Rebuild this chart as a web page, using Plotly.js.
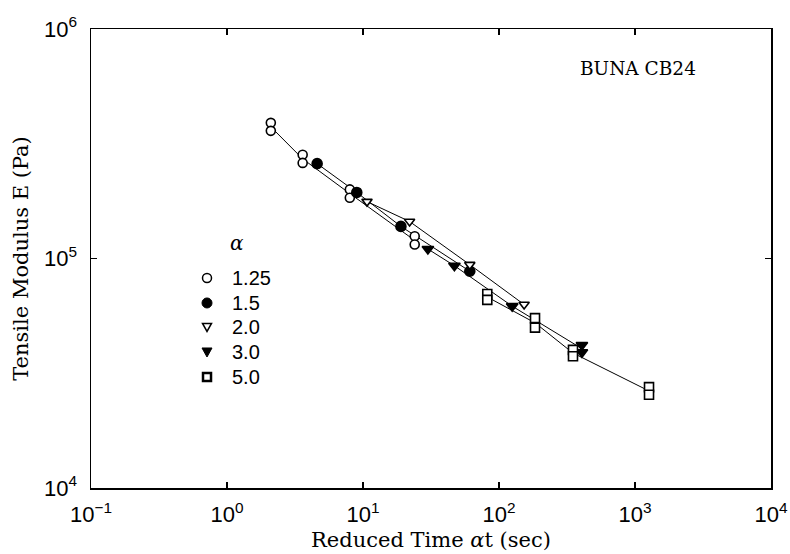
<!DOCTYPE html>
<html>
<head>
<meta charset="utf-8">
<script src="https://cdn.plot.ly/plotly-3.0.1.min.js"></script>
<style>html,body{margin:0;padding:0;background:#fff;}#chart{width:790px;height:554px;}</style>
</head>
<body>
<div id="chart"></div>
<script>
// Reduced time (s) and tensile modulus E (Pa) for each alpha
const alpha125_t = [2.1, 2.1, 3.6, 3.6, 8.0, 8.0, 24, 24];
const alpha125_E = [3.90e5, 3.60e5, 2.83e5, 2.61e5, 2.00e5, 1.84e5, 1.25e5, 1.15e5];
const alpha15_t = [4.6, 9.0, 19, 61];
const alpha15_E = [2.59e5, 1.94e5, 1.38e5, 8.8e4];
const alpha20_t = [10.7, 22, 61, 153];
const alpha20_E = [1.77e5, 1.45e5, 9.4e4, 6.3e4];
const alpha30_t = [30, 47, 125, 407, 407];
const alpha30_E = [1.10e5, 9.3e4, 6.2e4, 4.2e4, 3.9e4];
const alpha50_t = [82, 82, 184, 184, 350, 350, 1268, 1268];
const alpha50_E = [7.0e4, 6.6e4, 5.5e4, 5.0e4, 4.0e4, 3.75e4, 2.75e4, 2.55e4];

const seriesNames = ['1.25', '1.5', '2.0', '3.0', '5.0'];
const xTickVals = [0.1, 1, 10, 100, 1000, 10000];
const xTickText = ['10<sup>−1</sup>', '10<sup>0</sup>', '10<sup>1</sup>', '10<sup>2</sup>', '10<sup>3</sup>', '10<sup>4</sup>'];
const yTickVals = [1e4, 1e5, 1e6];
const yTickText = ['10<sup>4</sup>', '10<sup>5</sup>', '10<sup>6</sup>'];

// geometric mean of replicates at each time, for the connecting line
function lineOf(t, E) {
  const xs = [], ys = [];
  let i = 0;
  while (i < t.length) {
    let j = i, s = 0;
    while (j < t.length && t[j] === t[i]) { s += Math.log10(E[j]); j++; }
    xs.push(t[i]); ys.push(Math.pow(10, s / (j - i)));
    i = j;
  }
  return {xs, ys};
}

const data = [
  {t: alpha125_t, E: alpha125_E, sym: 'circle', fill: '#fff', size: 9},
  {t: alpha15_t, E: alpha15_E, sym: 'circle', fill: '#000', size: 10},
  {t: alpha20_t, E: alpha20_E, sym: 'triangle-down', fill: '#fff', size: 9},
  {t: alpha30_t, E: alpha30_E, sym: 'triangle-down', fill: '#000', size: 10},
  {t: alpha50_t, E: alpha50_E, sym: 'square', fill: '#fff', size: 9}
];

const traces = [];
data.forEach((d) => {
  const l = lineOf(d.t, d.E);
  traces.push({x: l.xs, y: l.ys, type: 'scatter', mode: 'lines', showlegend: false,
    line: {color: '#000', width: 1}, hoverinfo: 'skip'});
});
data.forEach((d, k) => {
  traces.push({x: d.t, y: d.E, type: 'scatter', mode: 'markers', name: seriesNames[k], showlegend: false,
    marker: {symbol: d.sym, size: d.size, color: d.fill, line: {color: '#000', width: 1.6}}});
});

const serifFont = "'DejaVu Serif', 'Liberation Serif', serif";
const sansFont = "'Liberation Sans', Arial, sans-serif";
const axisFont = {family: serifFont, size: 21, color: '#000'};
const tickFont = {family: sansFont, size: 22, color: '#000'};

// manual legend (key placed in the empty area of the plot)
const legX = 0.1706, legTextX = 0.2044;
const legRows = [0.4575, 0.4031, 0.3508, 0.2963, 0.2418];
const legendShapes = [];
const keyStyles = [
  {kind: 'circle', fill: '#fff', r: 4.5, w: 1.5},
  {kind: 'circle', fill: '#000', r: 5, w: 1},
  {kind: 'tri', fill: '#fff', r: 4.5, w: 1.5},
  {kind: 'tri', fill: '#000', r: 5, w: 1},
  {kind: 'square', fill: '#fff', r: 4, w: 2.5}
];
keyStyles.forEach((s, k) => {
  const base = {xref: 'paper', yref: 'paper', xsizemode: 'pixel', ysizemode: 'pixel',
    xanchor: legX, yanchor: legRows[k], fillcolor: s.fill, line: {color: '#000', width: s.w}, layer: 'above'};
  if (s.kind === 'circle') legendShapes.push(Object.assign({type: 'circle', x0: -s.r, x1: s.r, y0: -s.r, y1: s.r}, base));
  else if (s.kind === 'square') legendShapes.push(Object.assign({type: 'rect', x0: -s.r, x1: s.r, y0: -s.r, y1: s.r}, base));
  else legendShapes.push(Object.assign({type: 'path', path: `M ${-s.r},${s.r * 0.8} L ${s.r},${s.r * 0.8} L 0,${-s.r} Z`}, base));
});
const legendAnn = seriesNames.map((n, k) => ({text: n, xref: 'paper', yref: 'paper', x: legTextX, y: legRows[k],
  xanchor: 'left', yanchor: 'middle', showarrow: false, font: {family: sansFont, size: 20, color: '#000'}}));
legendAnn.push({text: '<i>α</i>', xref: 'paper', yref: 'paper', x: 0.2147, y: 0.5338,
  xanchor: 'center', yanchor: 'middle', showarrow: false, font: {family: serifFont, size: 20, color: '#000'}});

const layout = {
  width: 790, height: 554,
  margin: {l: 91, r: 19, t: 29, b: 66},
  paper_bgcolor: '#fff', plot_bgcolor: '#fff',
  showlegend: false,
  xaxis: {
    type: 'log', range: [-1, 4],
    tickvals: xTickVals, ticktext: xTickText,
    ticks: 'inside', ticklen: 6, tickwidth: 1.2, tickcolor: '#000',
    showline: true, linecolor: '#000', linewidth: 1.5, mirror: 'allticks',
    showgrid: false, zeroline: false,
    tickfont: tickFont, ticklabelstandoff: 6,
    title: {text: 'Reduced Time <i>α</i>t (sec)', font: axisFont, standoff: 6}
  },
  yaxis: {
    type: 'log', range: [4, 6],
    tickvals: yTickVals, ticktext: yTickText,
    ticks: 'inside', ticklen: 6, tickwidth: 1.2, tickcolor: '#000',
    showline: true, linecolor: '#000', linewidth: 1.5, mirror: 'allticks',
    showgrid: false, zeroline: false,
    tickfont: tickFont, ticklabelstandoff: 8,
    title: {text: 'Tensile Modulus E (Pa)', font: axisFont, standoff: 9}
  },
  shapes: legendShapes,
  annotations: [
    {text: 'BUNA CB24', xref: 'paper', yref: 'paper', x: 0.804, y: 0.915,
     xanchor: 'center', yanchor: 'middle', showarrow: false,
     font: {family: serifFont, size: 18.5, color: '#000'}}
  ].concat(legendAnn)
};

Plotly.newPlot('chart', traces, layout, {staticPlot: true, displayModeBar: false});
</script>
</body>
</html>
